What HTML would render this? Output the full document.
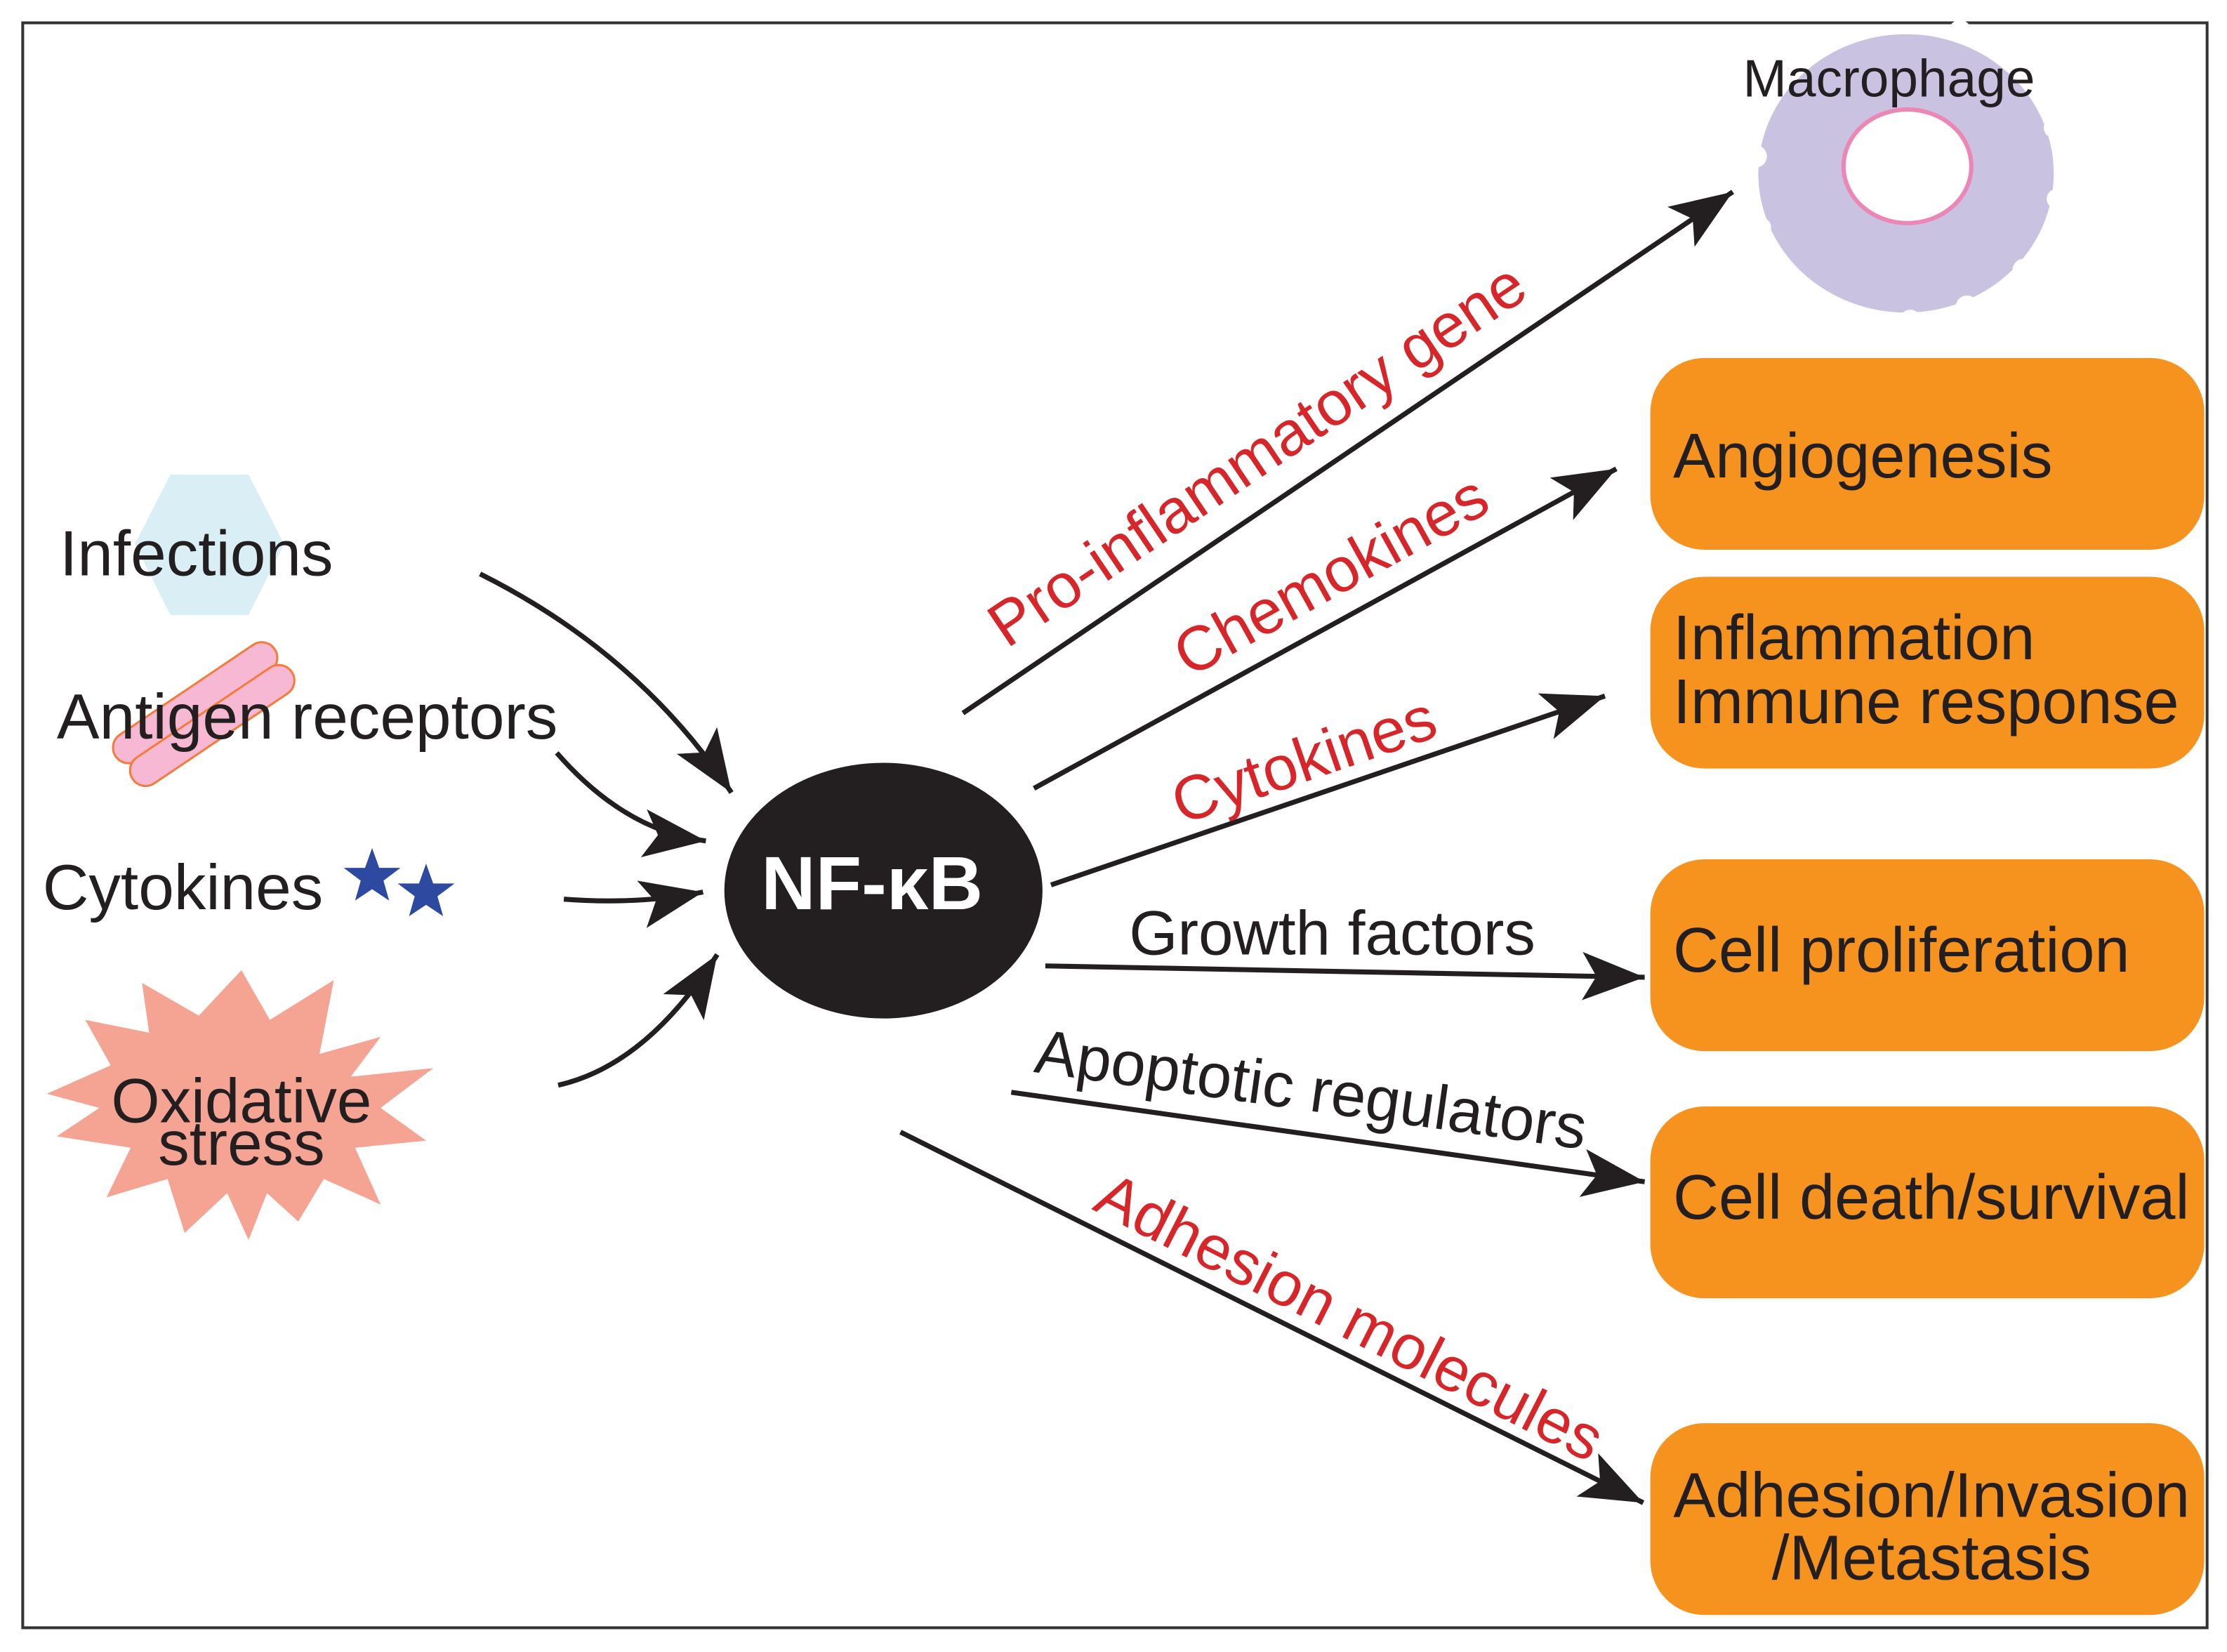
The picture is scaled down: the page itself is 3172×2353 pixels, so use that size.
<!DOCTYPE html>
<html><head><meta charset="utf-8"><style>html,body{margin:0;padding:0;background:#fff}svg{display:block}</style></head>
<body>
<svg width="3172" height="2353" viewBox="0 0 1568 1163" xmlns="http://www.w3.org/2000/svg" font-family="Liberation Sans, sans-serif">
<defs>
<marker id="a" markerUnits="userSpaceOnUse" markerWidth="50" markerHeight="40" refX="44" refY="17" orient="auto">
<path d="M0,0 L44,17 L0,34 L10,17 z" fill="#231f20"/>
</marker>
</defs>
<rect x="0" y="0" width="1568" height="1163" fill="#fff"/>
<rect x="16" y="16" width="1538" height="1130" fill="none" stroke="#333" stroke-width="2"/>

<!-- Macrophage -->
<ellipse cx="1342" cy="122" rx="104" ry="98" fill="#c9c2e0"/>
<g fill="#fff">
<circle cx="1236" cy="110" r="8"/><circle cx="1240" cy="160" r="7"/><circle cx="1262" cy="200" r="8"/>
<circle cx="1300" cy="222" r="8"/><circle cx="1345" cy="226" r="8"/><circle cx="1385" cy="216" r="8"/>
<circle cx="1425" cy="190" r="8"/><circle cx="1448" cy="140" r="7"/><circle cx="1446" cy="90" r="7"/>
<circle cx="1425" cy="45" r="8"/><circle cx="1380" cy="22" r="8"/><circle cx="1250" cy="60" r="8"/>
</g>
<ellipse cx="1343" cy="117" rx="45" ry="40" fill="#fff" stroke="#ec86b4" stroke-width="3"/>
<text x="1330" y="68" font-size="37" text-anchor="middle" fill="#231f20">Macrophage</text>

<!-- Orange boxes -->
<g fill="#f6921e">
<rect x="1162" y="252" width="390" height="135" rx="38"/>
<rect x="1162" y="406" width="390" height="135" rx="38"/>
<rect x="1162" y="605" width="390" height="135" rx="38"/>
<rect x="1162" y="779" width="390" height="135" rx="38"/>
<rect x="1162" y="1002" width="390" height="135" rx="38"/>
</g>
<g font-size="44.5" fill="#231f20">
<text x="1178" y="336">Angiogenesis</text>
<text x="1178" y="464">Inflammation</text>
<text x="1178" y="509">Immune response</text>
<text x="1178" y="684">Cell proliferation</text>
<text x="1178" y="858">Cell death/survival</text>
<text x="1360" y="1068" text-anchor="middle">Adhesion/Invasion</text>
<text x="1360" y="1112" text-anchor="middle">/Metastasis</text>
</g>

<!-- Left inputs -->
<polygon points="120,334 175,334 200,383 175,433 120,433 95,383" fill="#d9eef5"/>
<text x="42" y="405" font-size="45" fill="#231f20">Infections</text>
<g fill="#f6b8d2" stroke="#f47b3a" stroke-width="1.5">
<rect x="70" y="484" width="135" height="22" rx="11" transform="rotate(-34 137 495)"/>
<rect x="82" y="500" width="135" height="22" rx="11" transform="rotate(-34 149 511)"/>
</g>
<text x="40" y="520" font-size="45" fill="#231f20">Antigen receptors</text>
<text x="30" y="640" font-size="45" fill="#231f20">Cytokines</text>
<g fill="#2e4aa0">
<polygon points="262,597 267,611 282,611 270,620 274,634 262,626 250,634 254,620 242,611 257,611"/>
<polygon points="300,608 305,622 320,622 308,631 312,645 300,637 288,645 292,631 280,622 295,622"/>
</g>
<polygon fill="#f5a392" points="170,683 190,718 235,690 225,742 268,730 247,758 305,752 268,780 300,803 250,808 268,848 228,830 210,860 188,840 175,873 160,840 130,868 118,830 75,843 92,808 40,800 70,780 33,770 78,750 60,718 105,727 100,692 140,715"/>
<text x="170" y="790" font-size="44" text-anchor="middle" fill="#231f20">Oxidative</text>
<text x="170" y="820" font-size="44" text-anchor="middle" fill="#231f20">stress</text>

<!-- NF-kB -->
<ellipse cx="622" cy="627" rx="112" ry="90" fill="#231f20"/>
<text x="614" y="640" font-size="53" font-weight="bold" text-anchor="middle" fill="#fff">NF-κB</text>

<!-- arrows -->
<g fill="none" stroke="#231f20" stroke-width="3.5" marker-end="url(#a)">
<path d="M338,404 Q450,460 515,558"/>
<path d="M392,530 Q440,585 497,592"/>
<path d="M397,633 Q450,637 495,628"/>
<path d="M393,764 Q455,750 505,672"/>
<path d="M678,502 L1220,135"/>
<path d="M728,555 L1138,330"/>
<path d="M740,623 L1130,490"/>
<path d="M736,680 L1158,688"/>
<path d="M712,769 L1158,832"/>
<path d="M634,797 L1157,1058"/>
</g>

<!-- labels -->
<g font-size="44">
<text x="885" y="335" fill="#d7262a" text-anchor="middle" transform="rotate(-34 885 320)">Pro-inflammatory gene</text>
<text x="937" y="420" fill="#d7262a" text-anchor="middle" transform="rotate(-29 937 405)">Chemokines</text>
<text x="918" y="550" fill="#d7262a" text-anchor="middle" transform="rotate(-19 918 535)">Cytokines</text>
<text x="938" y="672" fill="#231f20" text-anchor="middle">Growth factors</text>
<text x="923" y="782" fill="#231f20" text-anchor="middle" transform="rotate(8 923 768)">Apoptotic regulators</text>
<text x="950" y="942" fill="#d7262a" text-anchor="middle" transform="rotate(27 950 928)">Adhesion molecules</text>
</g>
</svg>
</body></html>
